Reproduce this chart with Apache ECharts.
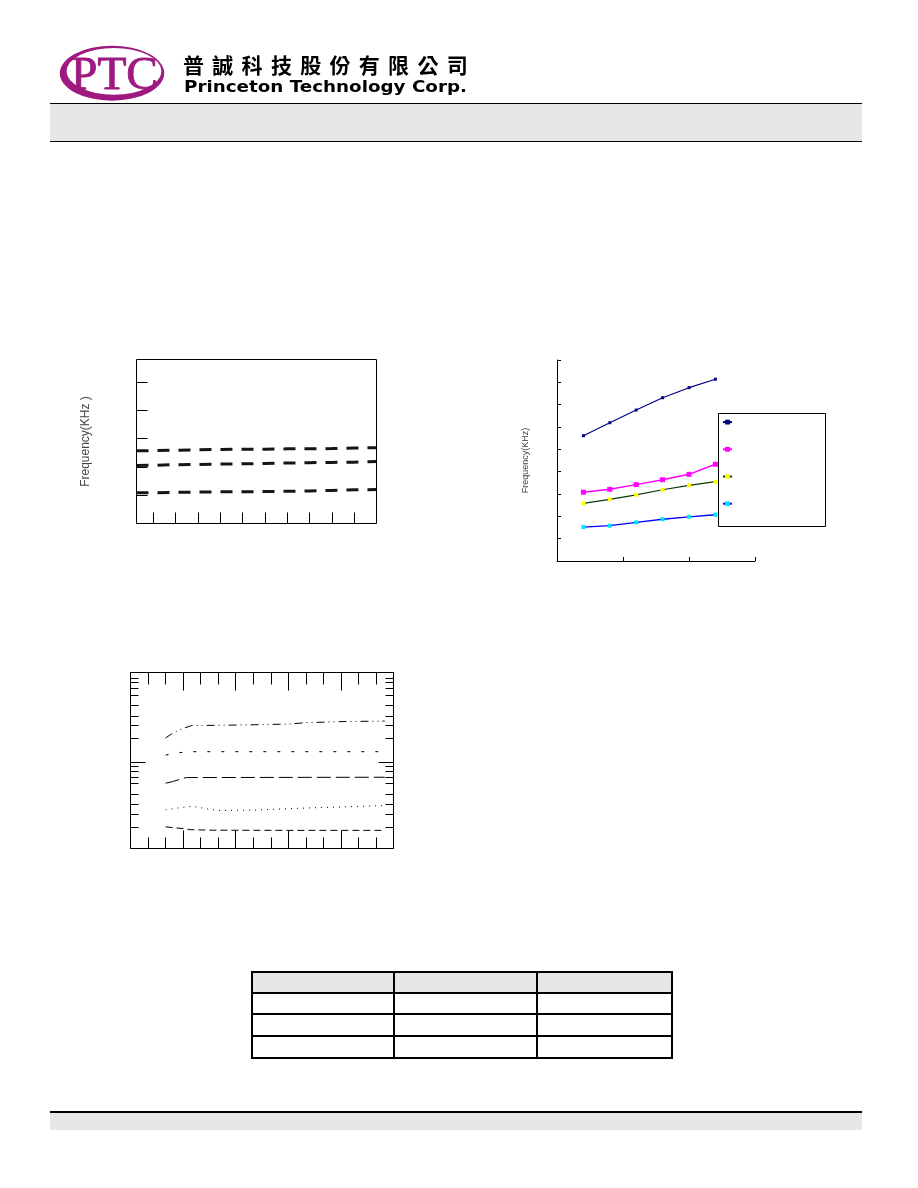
<!DOCTYPE html>
<html>
<head>
<meta charset="utf-8">
<script src="https://cdn.jsdelivr.net/npm/echarts@6/dist/echarts.min.js"></script>
<style>
html,body{margin:0;padding:0;background:#fff;}
#page{position:relative;width:918px;height:1188px;overflow:hidden;background:#fff;}
#chart{position:absolute;left:0;top:0;width:918px;height:1188px;}
.abs{position:absolute;}
#cn{left:183px;top:54px;font-family:"Noto Sans CJK TC","Noto Sans CJK SC",sans-serif;font-weight:bold;font-size:21px;line-height:21px;letter-spacing:8.3px;color:#000;white-space:nowrap;}
#en{left:184px;top:78px;font-family:"DejaVu Sans",sans-serif;font-weight:bold;font-size:16.5px;line-height:17px;color:#000;white-space:nowrap;transform-origin:0 0;}
</style>
</head>
<body>
<div id="page">
  <div id="chart"></div>

  <!-- header -->
  <svg class="abs" style="left:0;top:0" width="200" height="110">
    <ellipse cx="112" cy="73.2" rx="52.2" ry="27.5" fill="#9e1a80"/>
    <ellipse cx="114" cy="71.3" rx="47.3" ry="23.4" fill="#fff"/>
    <text x="71" y="89" font-family="Liberation Serif, serif" font-size="47" fill="#9e1a80" stroke="#9e1a80" stroke-width="0.9" textLength="87" lengthAdjust="spacingAndGlyphs">PTC</text>
  </svg>
  <div class="abs" id="cn">普誠科技股份有限公司</div>
  <div class="abs" id="en"><span id="enText">Princeton Technology Corp.</span></div>
  <div class="abs" style="left:50px;top:103px;width:812px;height:1px;background:#000"></div>
  <div class="abs" style="left:50px;top:104px;width:812px;height:37px;background:#e6e6e6"></div>
  <div class="abs" style="left:50px;top:141px;width:812px;height:1px;background:#000"></div>

  <!-- table -->
  <div class="abs" style="left:251px;top:971px;width:422px;height:22px;background:#e6e6e6"></div>
  <div class="abs" style="left:251px;top:971px;width:422px;height:88px;box-sizing:border-box;border:2px solid #000"></div>
  <div class="abs" style="left:251px;top:992px;width:422px;height:2px;background:#000"></div>
  <div class="abs" style="left:251px;top:1013px;width:422px;height:2px;background:#000"></div>
  <div class="abs" style="left:251px;top:1035px;width:422px;height:2px;background:#000"></div>
  <div class="abs" style="left:393px;top:971px;width:2px;height:88px;background:#000"></div>
  <div class="abs" style="left:536px;top:971px;width:2px;height:88px;background:#000"></div>

  <!-- footer -->
  <div class="abs" style="left:50px;top:1111px;width:812px;height:2px;background:#000"></div>
  <div class="abs" style="left:50px;top:1113px;width:812px;height:17px;background:#e6e6e6"></div>
</div>

<script>
// ---------- Chart 1 (top left): three dashed frequency curves ----------
const c1X      = [0.25, 1, 2, 3, 4, 5, 6, 7, 8, 9, 10, 11];
const c1Top    = [2.57, 2.58, 2.59, 2.61, 2.62, 2.63, 2.63, 2.64, 2.64, 2.65, 2.67, 2.68];
const c1Mid    = [2.05, 2.06, 2.08, 2.09, 2.10, 2.11, 2.12, 2.14, 2.15, 2.16, 2.17, 2.19];
const c1Low    = [1.09, 1.09, 1.10, 1.11, 1.12, 1.12, 1.13, 1.14, 1.15, 1.17, 1.19, 1.20];
const c1XTicks = [1, 2, 3, 4, 5, 6, 7, 8, 9, 10];
const c1YTicks = [1, 2, 3, 4, 5];
const c1YName  = 'Frequency(KHz )';

// ---------- Chart 2 (top right): four curves with markers ----------
const c2X = [0.4, 0.8, 1.2, 1.6, 2.0, 2.4];
const c2A = [5.61, 6.19, 6.76, 7.31, 7.76, 8.14];
const c2B = [3.08, 3.21, 3.42, 3.64, 3.88, 4.33];
const c2C = [2.58, 2.76, 2.96, 3.19, 3.39, 3.55];
const c2D = [1.52, 1.58, 1.73, 1.87, 1.98, 2.07];
const c2Names = ['A', 'B', 'C', 'D'];
const c2YName = 'Frequency(KHz)';

// ---------- Chart 3 (bottom left): five curves, various dash styles ----------
const c3AX = [2, 2.3, 2.65, 3, 3.5, 5, 7, 9, 10, 12, 14.5];
const c3A  = [62.8, 64.8, 66.7, 68.2, 69.9, 70.0, 70.3, 70.7, 71.5, 72.1, 72.4];
const c3BX = [2, 2.7, 3.5, 14.5];
const c3B  = [53.1, 54.4, 55.0, 55.0];
const c3CX = [2, 2.4, 3, 3.2, 14.5];
const c3C  = [37.1, 38.0, 39.9, 40.3, 40.5];
const c3DX = [2, 2.7, 3.4, 3.8, 4.3, 5, 7, 10, 12, 14.5];
const c3D  = [22.0, 23.0, 23.9, 23.6, 22.6, 21.6, 21.8, 23.0, 23.6, 24.4];
const c3EX = [2, 2.6, 3, 3.4, 4.7, 9, 14.5];
const c3E  = [12.3, 11.7, 11.3, 10.7, 10.4, 10.3, 10.3];
const c3YMinorTicks = [12.0, 19.2, 25.3, 30.9, 37.1, 40.3, 44.1, 46.5, 62.7, 69.8, 74.9, 81.2, 86.8, 91.0, 94.4, 96.6];
const c3YMajorTicks = [49.0];

const pairs = (xs, ys) => xs.map((x, i) => [x, ys[i]]);

const noLine = { show: false, onZero: false };
const hide = { show: false };
const black = '#000';

const option = {
  animation: false,
  grid: [
    { left: 136.5, top: 359.5, width: 240, height: 164, show: true, borderColor: black, borderWidth: 1 },
    { left: 557, top: 360, width: 198, height: 201 },
    { left: 130.5, top: 672.5, width: 263, height: 176, show: true, borderColor: black, borderWidth: 1 }
  ],
  xAxis: [
    // chart 1
    { gridIndex: 0, type: 'value', min: 0.25, max: 11, axisLine: noLine, splitLine: hide, axisLabel: hide,
      axisTick: { inside: true, length: 11, lineStyle: { color: black }, customValues: c1XTicks } },
    // chart 2
    { gridIndex: 1, type: 'value', min: 0, max: 3, interval: 1, splitLine: hide, axisLabel: hide,
      axisLine: { show: true, onZero: false, lineStyle: { color: black, width: 1 } },
      axisTick: { inside: true, length: 4, lineStyle: { color: black } } },
    // chart 3 bottom
    { gridIndex: 2, type: 'value', position: 'bottom', min: 0, max: 15, interval: 3, axisLine: noLine, splitLine: hide, axisLabel: hide,
      axisTick: { inside: true, length: 18, lineStyle: { color: black } },
      minorTick: { show: true, splitNumber: 3, length: 11, lineStyle: { color: black } } },
    // chart 3 top
    { gridIndex: 2, type: 'value', position: 'top', min: 0, max: 15, interval: 3, axisLine: noLine, splitLine: hide, axisLabel: hide,
      axisTick: { inside: true, length: 18, lineStyle: { color: black } },
      minorTick: { show: true, splitNumber: 3, length: 12, lineStyle: { color: black } } }
  ],
  yAxis: [
    // chart 1
    { gridIndex: 0, type: 'value', min: 0, max: 5.8, axisLine: noLine, splitLine: hide, axisLabel: hide,
      axisTick: { inside: true, length: 11, lineStyle: { color: black }, customValues: c1YTicks },
      name: c1YName, nameLocation: 'middle', nameGap: 45, nameRotate: 90,
      nameTextStyle: { fontFamily: 'Liberation Sans', fontSize: 12, color: '#444' } },
    // chart 2
    { gridIndex: 1, type: 'value', min: 0, max: 9, interval: 1, splitLine: hide, axisLabel: hide,
      axisLine: { show: true, onZero: false, lineStyle: { color: black, width: 1 } },
      axisTick: { inside: true, length: 4, lineStyle: { color: black } },
      name: c2YName, nameLocation: 'middle', nameGap: 27, nameRotate: 90,
      nameTextStyle: { fontFamily: 'Liberation Sans', fontSize: 9, color: '#444' } },
    // chart 3 left minor
    { gridIndex: 2, type: 'value', position: 'left', min: 0, max: 100, axisLine: noLine, splitLine: hide, axisLabel: hide,
      axisTick: { inside: true, length: 8, lineStyle: { color: black }, customValues: c3YMinorTicks } },
    // chart 3 right minor
    { gridIndex: 2, type: 'value', position: 'right', min: 0, max: 100, axisLine: noLine, splitLine: hide, axisLabel: hide,
      axisTick: { inside: true, length: 8, lineStyle: { color: black }, customValues: c3YMinorTicks } },
    // chart 3 left major
    { gridIndex: 2, type: 'value', position: 'left', min: 0, max: 100, axisLine: noLine, splitLine: hide, axisLabel: hide,
      axisTick: { inside: true, length: 15, lineStyle: { color: black }, customValues: c3YMajorTicks } },
    // chart 3 right major
    { gridIndex: 2, type: 'value', position: 'right', min: 0, max: 100, axisLine: noLine, splitLine: hide, axisLabel: hide,
      axisTick: { inside: true, length: 15, lineStyle: { color: black }, customValues: c3YMajorTicks } }
  ],
  legend: {
    show: true, orient: 'vertical', left: 722, top: 419.7, padding: 0,
    itemWidth: 9, itemHeight: 6, itemGap: 22.4, selectedMode: false,
    formatter: () => '', textStyle: { fontSize: 5, lineHeight: 6 },
    data: c2Names
  },
  graphic: [
    { type: 'rect', z: 1, shape: { x: 718.5, y: 413.5, width: 107, height: 113 },
      style: { fill: '#fff', stroke: black, lineWidth: 1 } }
  ],
  series: [
    // chart 1
    ...[c1Top, c1Mid, c1Low].map(ys => ({
      type: 'line', xAxisIndex: 0, yAxisIndex: 0, data: pairs(c1X, ys), showSymbol: false,
      lineStyle: { color: '#151515', width: 3, type: [12, 9] }
    })),
    // chart 2
    { name: c2Names[0], type: 'line', xAxisIndex: 1, yAxisIndex: 1, data: pairs(c2X, c2A),
      symbol: 'rect', symbolSize: 3, itemStyle: { color: '#000080' }, lineStyle: { color: '#000080', width: 1.2 } },
    { name: c2Names[1], type: 'line', xAxisIndex: 1, yAxisIndex: 1, data: pairs(c2X, c2B),
      symbol: 'rect', symbolSize: 5, itemStyle: { color: '#ff00ff' }, lineStyle: { color: '#ff00ff', width: 1.5 } },
    { name: c2Names[2], type: 'line', xAxisIndex: 1, yAxisIndex: 1, data: pairs(c2X, c2C),
      symbol: 'rect', symbolSize: 4, itemStyle: { color: '#ffff00' }, lineStyle: { color: '#0a3a0a', width: 1.2 } },
    { name: c2Names[3], type: 'line', xAxisIndex: 1, yAxisIndex: 1, data: pairs(c2X, c2D),
      symbol: 'rect', symbolSize: 4, itemStyle: { color: '#00e5ff' }, lineStyle: { color: '#0000ff', width: 1.3 } },
    // chart 3
    { type: 'line', xAxisIndex: 2, yAxisIndex: 2, data: pairs(c3AX, c3A), showSymbol: false,
      lineStyle: { color: black, width: 1, type: [8, 4, 1, 4, 1, 4] } },
    { type: 'line', xAxisIndex: 2, yAxisIndex: 2, data: pairs(c3BX, c3B), showSymbol: false,
      lineStyle: { color: black, width: 1, type: [3, 11] } },
    { type: 'line', xAxisIndex: 2, yAxisIndex: 2, data: pairs(c3CX, c3C), showSymbol: false,
      lineStyle: { color: black, width: 1, type: [14, 5] } },
    { type: 'line', xAxisIndex: 2, yAxisIndex: 2, data: pairs(c3DX, c3D), showSymbol: false,
      lineStyle: { color: black, width: 1, type: [1, 5] } },
    { type: 'line', xAxisIndex: 2, yAxisIndex: 2, data: pairs(c3EX, c3E), showSymbol: false,
      lineStyle: { color: black, width: 1, type: [7, 4] } }
  ]
};

const chart = echarts.init(document.getElementById('chart'), null, { renderer: 'canvas', width: 918, height: 1188 });
chart.setOption(option);

// fit header English line to its width in the reference
(function () {
  const span = document.getElementById('enText');
  const w = span.getBoundingClientRect().width;
  if (w > 0) {
    document.getElementById('en').style.transform = 'scaleX(' + (283 / w) + ')';
  }
})();
</script>
</body>
</html>
